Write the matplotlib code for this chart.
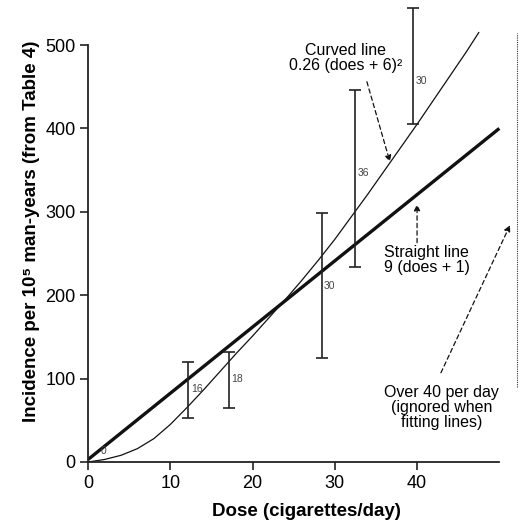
import numpy as np
import matplotlib
matplotlib.use("Agg")
import matplotlib.pyplot as plt

plt.rcParams["font.family"] = ["Liberation Sans", "DejaVu Sans"]

# straight fitted line (end points)
straight_dose = [0, 50]
straight_inc = [3, 400]

# curved fitted line
curve_dose = [0, 2, 4, 6, 8, 10, 12, 14, 16, 18, 20, 22, 24, 26, 28, 30, 32, 34, 36, 38, 40, 42, 44, 46, 47.5]
curve_inc = [0, 3, 8, 16, 28, 45, 65, 86, 108, 130, 151, 173, 195, 218, 242, 267, 294, 321, 349, 377, 405, 434, 463, 492, 515]

# observed ranges with their labels
bar_dose = [12.2, 17.1, 28.4, 32.5, 39.5]
bar_low = [53, 65, 125, 234, 405]
bar_high = [120, 132, 299, 446, 544]
bar_text = ["16", "18", "30", "36", "30"]
bar_text_inc = [87, 100, 211, 347, 457]

fig = plt.figure(figsize=(5.24, 5.28), dpi=100)
ax = fig.add_axes([0.168, 0.125, 0.832, 0.875])

ax.plot(straight_dose, straight_inc, color="#111111", lw=2.4, solid_capstyle="butt")
ax.plot(curve_dose, curve_inc, color="#111111", lw=0.9)

mid = (np.array(bar_low) + np.array(bar_high)) / 2
yerr = [mid - np.array(bar_low), np.array(bar_high) - mid]
ax.errorbar(bar_dose, mid, yerr=yerr, fmt="none", ecolor="#222222",
            elinewidth=1.2, capsize=4.6, capthick=1.2)
for d, v, t in zip(bar_dose, bar_text_inc, bar_text):
    ax.text(d + 0.3, v, t, fontsize=7.5, color="#444444", va="center", ha="left")
ax.text(1.9, 13, "0", fontsize=7.5, color="#444444", va="center", ha="center")

# annotations
arr = dict(arrowstyle="-|>", linestyle=(0, (3.5, 2.5)), color="#111111", lw=0.9,
           mutation_scale=9, shrinkA=0, shrinkB=0)
ax.text(31.3, 485, "Curved line\n0.26 (does + 6)²", fontsize=11.5, ha="center",
        va="center", linespacing=1.0)
ax.annotate("", xy=(36.7, 360), xytext=(33.9, 456), arrowprops=arr)

ax.text(41.2, 242, "Straight line\n9 (does + 1)", fontsize=11.5, ha="center",
        va="center", linespacing=1.0)
ax.annotate("", xy=(40.0, 309), xytext=(40.0, 263), arrowprops=arr)

ax.text(43.0, 65, "Over 40 per day\n(ignored when\nfitting lines)", fontsize=11.5,
        ha="center", va="center", linespacing=1.0)
ax.annotate("", xy=(51.3, 284), xytext=(42.9, 107), arrowprops=arr)

ax.plot([52.2, 52.2], [90, 515], color="#333333", lw=0.8, linestyle=(0, (1, 1)))

ax.set_xlim(0, 53)
ax.set_ylim(0, 554)
ax.spines["top"].set_visible(False)
ax.spines["right"].set_visible(False)
ax.spines["left"].set_bounds(0, 500)
ax.spines["bottom"].set_bounds(0, 50)
for s in ["left", "bottom"]:
    ax.spines[s].set_linewidth(1.3)
    ax.spines[s].set_color("#222222")
ax.set_xticks([0, 10, 20, 30, 40])
ax.set_yticks([0, 100, 200, 300, 400, 500])
ax.tick_params(length=6, width=1.2, labelsize=13, color="#222222", pad=3)

ax.set_xlabel("Dose (cigarettes/day)", fontsize=13.5, fontweight="bold", labelpad=8)
ax.set_ylabel("Incidence per 10⁵ man-years (from Table 4)", fontsize=13.5,
              fontweight="bold", labelpad=4)

fig.savefig("out.png", dpi=100)
